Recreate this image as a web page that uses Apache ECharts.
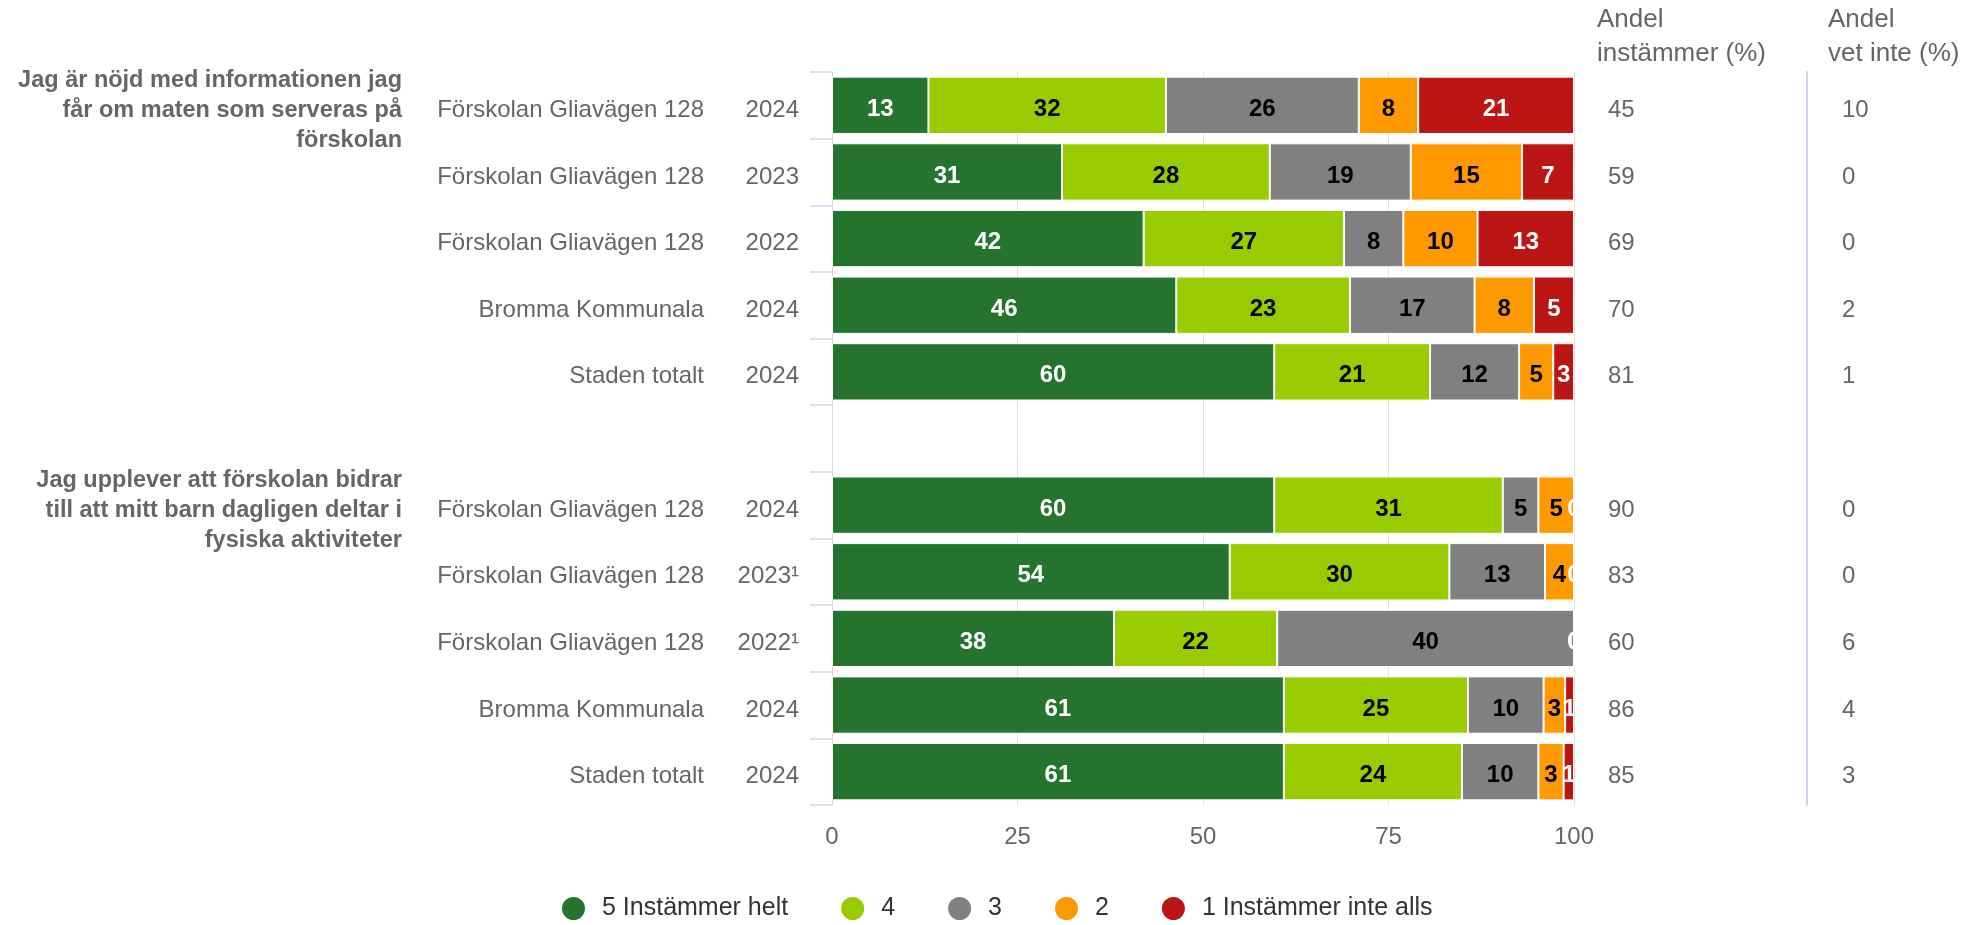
<!DOCTYPE html>
<html>
<head>
<meta charset="utf-8">
<script src="https://cdn.jsdelivr.net/npm/echarts@6/dist/echarts.min.js"></script>
<style>
html,body{margin:0;padding:0;background:#fff;}
#chart{width:1970px;height:925px;}
</style>
</head>
<body>
<div id="chart"></div>
<script>
// ---- data ----
const units = ['Förskolan Gliavägen 128','Förskolan Gliavägen 128','Förskolan Gliavägen 128','Bromma Kommunala','Staden totalt','',
               'Förskolan Gliavägen 128','Förskolan Gliavägen 128','Förskolan Gliavägen 128','Bromma Kommunala','Staden totalt'];
const years = ['2024','2023','2022','2024','2024','','2024','2023¹','2022¹','2024','2024'];
const questions = ['Jag är nöjd med informationen jag\nfår om maten som serveras på\nförskolan','','','','','',
                   'Jag upplever att förskolan bidrar\ntill att mitt barn dagligen deltar i\nfysiska aktiviteter','','','',''];
const seriesNames = ['5 Instämmer helt','4','3','2','1 Instämmer inte alls'];
const v5 = [13, 31, 42, 46.4, 59.6, '-', 59.6, 53.6, 38, 60.9, 60.9];
const v4 = [32, 28, 27, 23.4, 21.0, '-', 30.8, 29.6, 22, 24.8, 24.0];
const v3 = [26, 19, 8, 16.8, 12.0, '-', 4.8, 12.9, 40, 10.2, 10.3];
const v2 = [8, 15, 10, 8.0, 4.6, '-', 4.8, 3.9, 0, 2.9, 3.4];
const v1 = [21, 7, 13, 5.4, 2.8, '-', 0, 0, 0, 1.2, 1.4];
const agreeShare = ['45','59','69','70','81','','90','83','60','86','85'];
const dontKnowShare = ['10','0','0','2','1','','0','0','6','4','3'];
const xTicks = [0, 25, 50, 75, 100];

// ---- styles ----
const FONT = 'Liberation Sans, Arial, sans-serif';
const colors = ['#267330','#99cc00','#808080','#ff9900','#bb1515'];
const labelColors = ['#ffffff','#000000','#000000','#000000','#ffffff'];
const values = [v5, v4, v3, v2, v1];
const idx = units.map((_, i) => String(i));

const chart = echarts.init(document.getElementById('chart'), null, {renderer: 'canvas'});

function labelAxis(arr, margin, pos, extra) {
  return Object.assign({
    type: 'category', data: idx, inverse: true, position: pos, gridIndex: 1,
    axisLine: {show: false}, axisTick: {show: false}, splitLine: {show: false},
    axisLabel: {interval: 0, margin: margin, color: '#666666', fontSize: 24, fontFamily: FONT,
                formatter: (v, i) => arr[i]}
  }, extra || {});
}

const option = {
  animation: false,
  backgroundColor: '#ffffff',
  textStyle: {fontFamily: FONT},
  title: [
    {text: 'Andel\ninstämmer (%)', left: 1597, top: 3, padding: 0,
     textStyle: {fontSize: 26, fontWeight: 'normal', color: '#666666', lineHeight: 34, fontFamily: FONT}},
    {text: 'Andel\nvet inte (%)', left: 1828, top: 3, padding: 0,
     textStyle: {fontSize: 26, fontWeight: 'normal', color: '#666666', lineHeight: 34, fontFamily: FONT}}
  ],
  legend: {
    data: seriesNames, left: 560, top: 895, padding: 0, icon: 'circle', itemWidth: 47, itemHeight: 25, itemGap: 51,
    textStyle: {fontSize: 25, color: '#333333', fontFamily: FONT}
  },
  grid: [
    {left: 832, right: 396, top: 72, bottom: 120, containLabel: false, outerBoundsMode: 'none'},
    {left: 832, right: 396, top: 77, bottom: 115, containLabel: false, outerBoundsMode: 'none'}
  ],
  xAxis: [{
    type: 'value', gridIndex: 0, min: xTicks[0], max: xTicks[xTicks.length - 1], interval: 25,
    axisLine: {show: false}, axisTick: {show: false},
    splitLine: {show: true, lineStyle: {color: '#e0e0e0', width: 1}},
    axisLabel: {color: '#666666', fontSize: 24, margin: 20, fontFamily: FONT}
  }, {
    type: 'value', gridIndex: 1, min: 0, max: 100, show: false
  }],
  yAxis: [
    {
      type: 'category', data: idx, inverse: true, position: 'left', gridIndex: 0,
      axisLine: {show: true, lineStyle: {color: '#d8d8d8', width: 1}},
      axisTick: {show: true, length: 22, lineStyle: {color: '#ccd6eb', width: 1.5}},
      axisLabel: {show: false}, splitLine: {show: false}
    },
    {
      type: 'category', data: idx, inverse: true, position: 'right', gridIndex: 0, offset: 233,
      axisLine: {show: true, lineStyle: {color: '#ccd6eb', width: 2}},
      axisTick: {show: false}, axisLabel: {show: false}, splitLine: {show: false}
    },
    labelAxis(years, 33, 'left'),
    labelAxis(units, 128, 'left'),
    labelAxis(questions, 430, 'left', {
      axisLabel: {interval: 0, margin: 430, color: '#666666', fontSize: 23.5, fontWeight: 'bold',
                  lineHeight: 30, fontFamily: FONT, formatter: (v, i) => questions[i]}
    }),
    labelAxis(agreeShare, 34, 'right'),
    labelAxis(dontKnowShare, 268, 'right')
  ],
  series: values.map((arr, s) => ({
    name: seriesNames[s], type: 'bar', stack: 'total', xAxisIndex: 0, yAxisIndex: 0,
    barCategoryGap: '14%',
    itemStyle: {color: colors[s], borderColor: '#ffffff', borderWidth: 1},
    label: {
      show: true, position: 'inside', offset: [0, 4], fontSize: 24, fontWeight: 'bold', fontFamily: FONT,
      formatter: p => String(Math.round(p.value)),
      color: labelColors[s]
    },
    data: arr.map(v => (v === 0 ? {value: 0, label: {color: '#ffffff'}} : v))
  }))
};
chart.setOption(option);
</script>
</body>
</html>
